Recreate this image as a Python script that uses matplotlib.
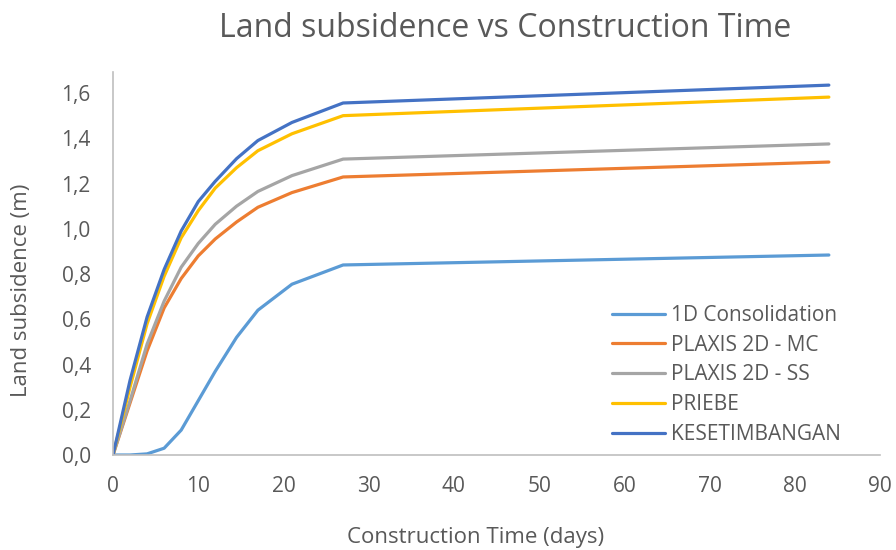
import matplotlib.pyplot as plt
from matplotlib.ticker import FuncFormatter

# construction time (days) and settlement (m) per method
days = [0, 2, 4, 6, 8, 10, 12, 14.5, 17, 21, 27, 84]
consolidation_1d = [0, 0, 0.005, 0.03, 0.11, 0.24, 0.37, 0.52, 0.64, 0.755, 0.84, 0.884]
plaxis_mc = [0, 0.23, 0.46, 0.65, 0.78, 0.88, 0.955, 1.03, 1.095, 1.16, 1.229, 1.295]
plaxis_ss = [0, 0.24, 0.49, 0.68, 0.83, 0.935, 1.02, 1.10, 1.165, 1.235, 1.308, 1.375]
priebe = [0, 0.30, 0.58, 0.79, 0.96, 1.08, 1.18, 1.27, 1.345, 1.42, 1.50, 1.582]
kesetimbangan = [0, 0.33, 0.61, 0.82, 0.99, 1.12, 1.21, 1.31, 1.39, 1.47, 1.556, 1.635]

series = [
    ("1D Consolidation", consolidation_1d, "#5B9BD5"),
    ("PLAXIS 2D - MC", plaxis_mc, "#ED7D31"),
    ("PLAXIS 2D - SS", plaxis_ss, "#A5A5A5"),
    ("PRIEBE", priebe, "#FFC000"),
    ("KESETIMBANGAN", kesetimbangan, "#4472C4"),
]

plt.rcParams['font.family'] = ['Open Sans', 'DejaVu Sans']
text_color = "#595959"

fig = plt.figure(figsize=(8.96, 5.5), dpi=100)
ax = fig.add_axes([113 / 896, 95 / 550, 767 / 896, 383 / 550])

for name, values, color in series:
    ax.plot(days, values, color=color, lw=2.3, label=name, solid_capstyle='round')

ax.set_xlim(0, 90)
ax.set_ylim(0, 1.693)
ax.set_xticks(range(0, 91, 10))
ax.set_yticks([0, 0.2, 0.4, 0.6, 0.8, 1.0, 1.2, 1.4, 1.6])
ax.yaxis.set_major_formatter(FuncFormatter(lambda v, p: f"{v:.1f}".replace(".", ",")))

for side in ("top", "right"):
    ax.spines[side].set_visible(False)
for side in ("left", "bottom"):
    ax.spines[side].set_color("#BFBFBF")
    ax.spines[side].set_linewidth(1.2)
ax.tick_params(length=0, labelsize=15, colors=text_color)
ax.tick_params(axis="y", pad=16)
ax.tick_params(axis="x", pad=15)

fig.text(0.564, 0.949, "Land subsidence vs Construction Time", ha="center", va="center",
         fontsize=23, color=text_color)
fig.text(0.531, 0.022, "Construction Time (days)", ha="center", va="center",
         fontsize=16, color=text_color)
fig.text(0.024, 0.473, "Land subsidence (m)", ha="center", va="center", rotation=90,
         fontsize=16, color=text_color)

leg = ax.legend(loc="upper left", bbox_to_anchor=(612 / 896, 1 - 305 / 550),
                bbox_transform=fig.transFigure, frameon=False, fontsize=15,
                handlelength=2.55, handletextpad=0.3, labelspacing=0.42, borderaxespad=0,
                borderpad=0)
for t in leg.get_texts():
    t.set_color(text_color)

fig.savefig("out.png", dpi=100)
